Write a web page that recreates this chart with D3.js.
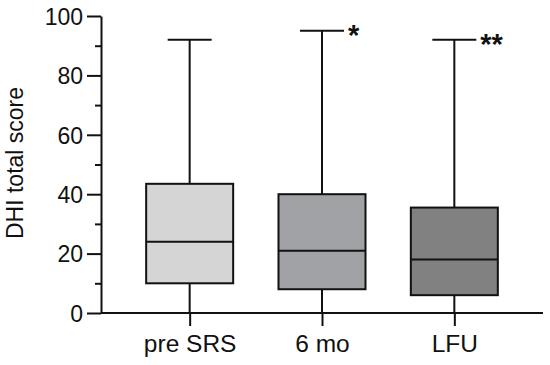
<!DOCTYPE html>
<meta charset="utf-8">
<style>
	body { margin: 0; background: #fff; font-family: "Liberation Sans", Arial, sans-serif; }
	text { fill: #111; }
</style>
<body>
<svg id="chart" width="550" height="365"></svg>

<script src="https://d3js.org/d3.v7.min.js"></script>
<script>
	// groups and box statistics
	var groups = ["pre SRS", "6 mo", "LFU"];
	var mins = [0, 0, 0];
	var q1s = [10, 8, 6];
	var medians = [24, 21, 18];
	var q3s = [43.5, 40, 35.5];
	var maxs = [92, 95, 92];
	var fills = ["#d5d5d5", "#a1a2a5", "#818181"];
	var stars = ["", "*", "**"];
	var yTicks = [0, 20, 40, 60, 80, 100];
	var yMinor = [10, 30, 50, 70, 90];

	var svg = d3.select("#chart"),
		margin = {top: 16, right: 7, bottom: 52, left: 101},
		width = +svg.attr("width"),
		height = +svg.attr("height");

	var x = d3.scalePoint()
		.domain(groups)
		.range([margin.left, width - margin.right])
		.padding(0.67);

	var y = d3.scaleLinear()
		.domain([0, 100])
		.range([height - margin.bottom, margin.top]);

	var boxW = 87, capW = 44;

	var data = groups.map(function(g, i) {
		return {name: g, min: mins[i], q1: q1s[i], med: medians[i], q3: q3s[i], max: maxs[i], fill: fills[i], star: stars[i]};
	});

	var g = svg.append("g");

	var box = g.selectAll(".box")
		.data(data)
		.enter().append("g")
		.attr("class", "box");

	// whisker
	box.append("line")
		.attr("x1", function(d) { return x(d.name); })
		.attr("x2", function(d) { return x(d.name); })
		.attr("y1", function(d) { return y(d.min); })
		.attr("y2", function(d) { return y(d.max); })
		.attr("stroke", "#111")
		.attr("stroke-width", 2);

	box.append("line")
		.attr("x1", function(d) { return x(d.name) - capW / 2; })
		.attr("x2", function(d) { return x(d.name) + capW / 2; })
		.attr("y1", function(d) { return y(d.max); })
		.attr("y2", function(d) { return y(d.max); })
		.attr("stroke", "#111")
		.attr("stroke-width", 2);

	box.append("rect")
		.attr("x", function(d) { return x(d.name) - boxW / 2; })
		.attr("width", boxW)
		.attr("y", function(d) { return y(d.q3); })
		.attr("height", function(d) { return y(d.q1) - y(d.q3); })
		.attr("fill", function(d) { return d.fill; })
		.attr("stroke", "#111")
		.attr("stroke-width", 2);

	box.append("line")
		.attr("x1", function(d) { return x(d.name) - boxW / 2; })
		.attr("x2", function(d) { return x(d.name) + boxW / 2; })
		.attr("y1", function(d) { return y(d.med); })
		.attr("y2", function(d) { return y(d.med); })
		.attr("stroke", "#111")
		.attr("stroke-width", 2);

	box.append("text")
		.attr("x", function(d) { return x(d.name) + capW / 2 + 4; })
		.attr("y", function(d) { return y(d.max) + 14; })
		.style("font-size", "29px")
		.style("font-weight", "bold")
		.text(function(d) { return d.star; });

	// y axis
	var yAxis = g.append("g")
		.attr("transform", "translate(" + margin.left + ",0)")
		.call(d3.axisLeft(y).tickValues(yTicks).tickSize(14).tickPadding(4).tickSizeOuter(0));
	yAxis.selectAll(".tick text").style("font-size", "23px").attr("dy", "0.36em");

	g.append("g")
		.attr("transform", "translate(" + margin.left + ",0)")
		.call(d3.axisLeft(y).tickValues(yMinor).tickSize(6).tickFormat("").tickSizeOuter(0))
		.select(".domain").remove();

	// x axis
	var xAxis = g.append("g")
		.attr("transform", "translate(0," + y(0) + ")")
		.call(d3.axisBottom(x).tickSize(13).tickPadding(9).tickSizeOuter(0));
	xAxis.select(".domain").attr("d", "M" + margin.left + ",0H" + (width - margin.right));
	xAxis.selectAll(".tick text").style("font-size", "24.5px");

	svg.selectAll(".domain, .tick line").attr("stroke", "#111").attr("stroke-width", 2);
	svg.selectAll(".tick text").attr("fill", "#111").style("font-family", "'Liberation Sans', Arial, sans-serif");

	svg.append("text")
		.attr("transform", "translate(23," + 163 + ") rotate(-90)")
		.attr("text-anchor", "middle")
		.style("font-size", "23px")
		.text("DHI total score");
</script>
</body>
